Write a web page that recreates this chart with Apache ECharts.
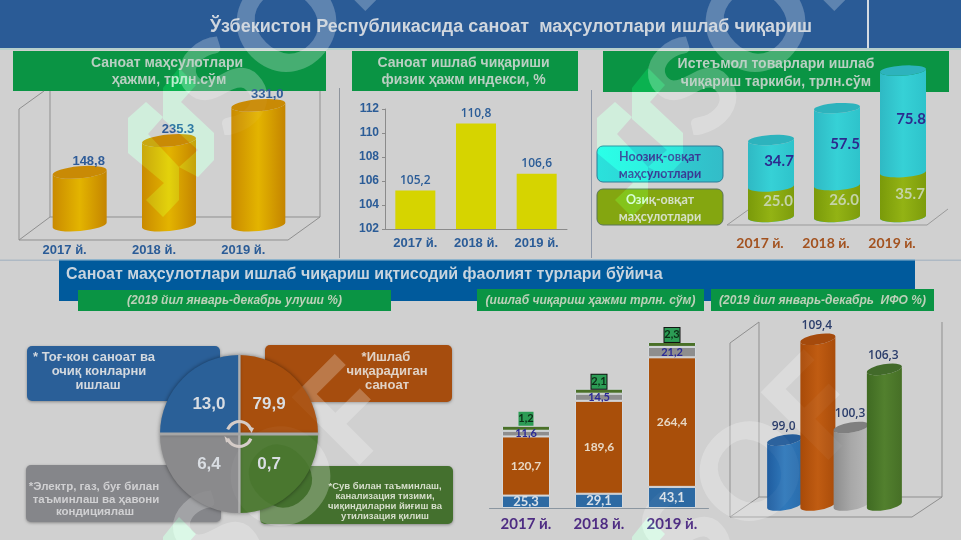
<!DOCTYPE html>
<html>
<head>
<meta charset="utf-8">
<title>Саноат маҳсулотлари</title>
<script src="https://cdn.jsdelivr.net/npm/echarts@6/dist/echarts.min.js"></script>
<style>html,body{margin:0;padding:0;background:#d0d0d0}#c{width:961px;height:540px}</style>
</head>
<body>
<div id="c"></div>
<script>
// Industrial output volume, trln. soum
const years = ['2017 й.', '2018 й.', '2019 й.'];
const outputVolume = [148.8, 235.3, 331.0];
const outputLabels = ['148,8', '235.3', '331,0'];

// Physical volume index, %
const volumeIndex = [105.2, 110.8, 106.6];

// Consumer goods split, trln. soum
const foodGoods = [25.0, 26.0, 35.7];
const nonFoodGoods = [34.7, 57.5, 75.8];

// Output by activity, trln. soum
const miningOutput = [25.3, 29.1, 43.1];
const manufacturingOutput = [120.7, 189.6, 264.4];
const energyOutput = [11.6, 14.5, 21.2];
const waterOutput = [1.2, 2.1, 2.3];

// Activity index, %
const activityNames = ['mining', 'manufacturing', 'energy', 'water'];
const activityIndex = [99.0, 109.4, 100.3, 106.3];
const activityLabels = ['99,0', '109,4', '100,3', '106,3'];

// Shares printed on the four equal tiles of the round diagram (tiles are not angle-encoded)
const tileNames = ['manufacturing', 'water', 'energy', 'mining'];
const tileShares = ['79,9', '0,7', '6,4', '13,0'];
const tileWeights = [1, 1, 1, 1];

const SANS = '"Liberation Sans", Arial, sans-serif';
const LATO = 'Lato, "Open Sans", sans-serif';
const comma = v => v.toFixed(1).replace('.', ',');

function hGrad(a, b, c) {
  return { type: 'linear', x: 0, y: 0, x2: 1, y2: 0, colorStops: [
    { offset: 0, color: a }, { offset: 0.5, color: b }, { offset: 1, color: c } ] };
}

// Outline of the visible front of a slightly tilted cylinder section
function bodyPath(cx, yTop, yBase, rx, ry, t) {
  const rot = -Math.atan2(t, rx) * 180 / Math.PI;
  const arc = s => 'A' + rx + ' ' + ry + ' ' + rot + ' 0 ' + s + ' ';
  return 'M' + (cx - rx) + ' ' + (yTop + t) + ' ' + arc(0) + (cx + rx) + ' ' + (yTop - t) +
    ' L' + (cx + rx) + ' ' + (yBase - t) + ' ' + arc(1) + (cx - rx) + ' ' + (yBase + t) + ' Z';
}
function capPath(cx, y, rx, ry, t) {
  const rot = -Math.atan2(t, rx) * 180 / Math.PI;
  const arc = 'A' + rx + ' ' + ry + ' ' + rot + ' 0 1 ';
  return 'M' + (cx - rx) + ' ' + (y + t) + ' ' + arc + (cx + rx) + ' ' + (y - t) + ' ' + arc + (cx - rx) + ' ' + (y + t) + ' Z';
}

// Custom series drawing one cylinder per datum [categoryIndex, from, to, text, labelValue]
function cylinderSeries(gridIndex, rows, opt) {
  return {
    type: 'custom', xAxisIndex: gridIndex, yAxisIndex: gridIndex, z: opt.z || 2, silent: true, clip: false,
    data: rows,
    renderItem(params, api) {
      const i = api.value(0);
      const base = api.coord([i, api.value(1)]);
      const top = api.coord([i, api.value(2)]);
      const cx = base[0] + opt.shift;
      const yBase = base[1] - opt.lift;
      const fill = typeof opt.fill === 'function' ? opt.fill(params.dataIndex) : opt.fill;
      const cap = typeof opt.cap === 'function' ? opt.cap(params.dataIndex) : opt.cap;
      const children = [{
        type: 'path', shape: { pathData: bodyPath(cx, top[1], yBase, opt.rx, opt.ry, opt.tilt) },
        style: { fill: fill }
      }];
      if (cap) {
        children.push({ type: 'path', shape: { pathData: capPath(cx, top[1], opt.rx, opt.ry, opt.tilt) }, style: { fill: cap } });
      }
      const row = rows[params.dataIndex];
      if (row[3]) {
        const ly = row[4] != null ? api.coord([i, row[4]])[1] - 2 : top[1] - opt.labelUp;
        children.push({
          type: 'text', z2: 5,
          style: { text: row[3], x: cx + opt.labelShift, y: ly, fill: opt.labelColor, font: opt.labelFont, align: 'center', verticalAlign: 'middle' }
        });
      }
      return { type: 'group', children: children };
    }
  };
}

function hiddenCat(data, gridIndex, label) {
  return {
    type: 'category', data: data, gridIndex: gridIndex,
    axisLine: { show: false }, axisTick: { show: false },
    axisLabel: label ? Object.assign({ show: true }, label) : { show: false }
  };
}
function hiddenVal(gridIndex, min, max) {
  return { type: 'value', gridIndex: gridIndex, min: min, max: max, show: false, splitLine: { show: false } };
}

const grids = [
  { left: 20, top: 80, width: 268, height: 147 },
  { left: 385, top: 109, width: 182, height: 120 },
  { left: 727, top: 59.2, width: 198, height: 160.8 },
  { left: 489.5, top: 336.5, width: 219, height: 171.5 },
  { left: 768, top: 314, width: 133, height: 194 }
];

const xAxes = [
  hiddenCat(years, 0, { color: '#2b5c97', fontFamily: SANS, fontWeight: 'bold', fontSize: 13, margin: 17 }),
  {
    type: 'category', data: years, gridIndex: 1,
    axisLine: { lineStyle: { color: '#8b8b8b' } },
    axisTick: { length: 3, lineStyle: { color: '#8b8b8b' } },
    axisLabel: { color: '#2b5c97', fontFamily: SANS, fontWeight: 'bold', fontSize: 13, margin: 8 }
  },
  hiddenCat(years, 2, { color: '#a3521f', fontFamily: LATO, fontWeight: 'bold', fontSize: 14, margin: 16 }),
  {
    type: 'category', data: years, gridIndex: 3,
    axisLine: { lineStyle: { color: '#8b96a0' } },
    axisTick: { length: 3, lineStyle: { color: '#8b96a0' } },
    axisLabel: { color: '#4e2c83', fontFamily: LATO, fontWeight: 'bold', fontSize: 15, margin: 9 }
  },
  hiddenCat(activityNames, 4, null)
];

const yAxes = [
  hiddenVal(0, 0, 400),
  {
    type: 'value', gridIndex: 1, min: 102, max: 112, interval: 2,
    splitLine: { show: false },
    axisLine: { show: true, lineStyle: { color: '#8b8b8b' } },
    axisTick: { show: true, length: 3, lineStyle: { color: '#8b8b8b' } },
    axisLabel: { color: '#2b5c97', fontFamily: SANS, fontWeight: 'bold', fontSize: 12, margin: 6 }
  },
  hiddenVal(2, 0, 120),
  hiddenVal(3, 0, 350),
  hiddenVal(4, 92, 112)
];

function stackBar(name, values, color, labelColor, extraLabel) {
  return {
    type: 'bar', name: name, stack: 'output', xAxisIndex: 3, yAxisIndex: 3, barWidth: 48, silent: true,
    data: values,
    itemStyle: { color: color, borderColor: '#d4d8dc', borderWidth: 1 },
    label: Object.assign({
      show: true, position: 'inside', color: labelColor,
      fontFamily: LATO, fontWeight: 'bold', fontSize: 12,
      formatter: p => comma(p.value)
    }, extraLabel || {})
  };
}

const activityFill = [
  hGrad('#1f5c9f', '#3079bb', '#2a6cab'),
  hGrad('#a84a08', '#c05c12', '#a94c0a'),
  hGrad('#8c8c8c', '#a8a8a8', '#b8b8b8'),
  hGrad('#3f6a22', '#52802e', '#466f26')
];
const activityCap = ['#245c99', '#a54a0c', '#7f7f7f', '#426a2a'];

// The first water label sits on a plain tile without an outline
const waterData = waterOutput.map((v, i) => (i === 0 ? { value: v, label: { borderWidth: 0 } } : v));

const series = [
  cylinderSeries(0, outputVolume.map((v, i) => [i, 0, v, outputLabels[i]]), {
    shift: 15, lift: 2, rx: 27, ry: 6, tilt: 2.4,
    fill: hGrad('#c98a00', '#e3b400', '#c48400'), cap: '#c98a05',
    labelShift: 9, labelUp: 11, labelColor: '#2f5c98', labelFont: 'bold 13px ' + SANS
  }),
  {
    type: 'bar', xAxisIndex: 1, yAxisIndex: 1, barWidth: 40, silent: true,
    data: volumeIndex,
    itemStyle: { color: '#d6d400' },
    label: {
      show: true, position: 'top', distance: 4, color: '#2b5c97',
      fontFamily: '"Open Sans", sans-serif', fontWeight: 600, fontSize: 12,
      formatter: p => comma(p.value)
    }
  },
  cylinderSeries(2, nonFoodGoods.map((v, i) => [i, 0, foodGoods[i] + v, v.toFixed(1), foodGoods[i] + v / 2]), {
    shift: 11, lift: 3, rx: 23, ry: 5, tilt: 1.5,
    fill: hGrad('#2fb9c4', '#36d1d6', '#2ec3cb'), cap: '#2db3bd',
    labelShift: 8, labelUp: 0, labelColor: '#2d2a8e', labelFont: 'bold 15px ' + LATO
  }),
  cylinderSeries(2, foodGoods.map((v, i) => [i, 0, v, v.toFixed(1), v / 2]), {
    z: 3, shift: 11, lift: 3, rx: 23, ry: 5, tilt: 1.5,
    fill: hGrad('#7a9a0a', '#93b314', '#7d9c0c'), cap: null,
    labelShift: 7, labelUp: 0, labelColor: '#c4d3a8', labelFont: 'bold 15px ' + LATO
  }),
  stackBar('mining', miningOutput, '#2d6aa3', '#d8e0e8', { fontSize: 13 }),
  stackBar('manufacturing', manufacturingOutput, '#a94f0a', '#e8d8c4'),
  stackBar('energy', energyOutput, '#8e8e8e', '#2b2a96', { fontSize: 11 }),
  Object.assign(stackBar('water', waterData, '#4a7028', '#0b2d16', {
    position: 'top', distance: 0, backgroundColor: '#2c9c55',
    borderColor: '#111', borderWidth: 1, width: 15, height: 14, align: 'center', lineHeight: 14, fontSize: 11
  }), { barMinHeight: 5 }),
  cylinderSeries(4, activityIndex.map((v, i) => [i, 92, v, activityLabels[i]]), {
    shift: 0, lift: 3, rx: 17.5, ry: 5, tilt: 3,
    fill: i => activityFill[i], cap: i => activityCap[i],
    labelShift: -1, labelUp: 14, labelColor: '#2b3d6b', labelFont: '600 12px "Open Sans", sans-serif'
  }),
  {
    type: 'pie', center: [239, 434], radius: [0, 79], startAngle: 90, silent: true, z: 3,
    data: tileWeights.map((w, i) => ({ value: w, name: tileNames[i] })),
    color: ['#a84f0d', '#4a772f', '#8a8a8c', '#2a6098'],
    itemStyle: { shadowBlur: 4, shadowColor: 'rgba(0,0,0,0.45)' },
    labelLine: { show: false },
    label: {
      show: true, position: 'inside', color: '#d9dde2',
      fontFamily: SANS, fontWeight: 'bold', fontSize: 17,
      formatter: p => tileShares[p.dataIndex]
    }
  }
];

// Page furniture: banners, captions, 3D frames and panels
const el = [];
function rect(x, y, w, h, fill, extra) {
  el.push(Object.assign({ type: 'rect', z: (extra && extra.z) || -2, silent: true, shape: { x, y, width: w, height: h, r: (extra && extra.r) || 0 },
    style: Object.assign({ fill: fill }, (extra && extra.style) || {}) }));
}
function text(x, y, s, font, fill, align, z) {
  el.push({ type: 'text', z: z || 1, silent: true, x: x, y: y,
    style: { text: s, font: font, fill: fill, align: align || 'center', verticalAlign: 'middle' } });
}
function line(points, color, w) {
  el.push({ type: 'polyline', z: -1, silent: true, shape: { points: points },
    style: { stroke: color, lineWidth: w || 1, fill: null } });
}

rect(0, 0, 961, 48, '#2a5b96');
rect(0, 48, 961, 2, '#b6cfcc');
rect(867, 0, 2, 48, '#d4dbe2');
text(511, 27.5, 'Ўзбекистон Республикасида саноат  маҳсулотлари ишлаб чиқариш', 'bold 18px ' + SANS, '#cfd6de');

rect(13, 51, 313, 40, '#0a9444');
rect(352, 51, 226, 40, '#0a9444');
rect(603, 51, 346, 41, '#0a9444');
const capFont = 'bold 14px ' + SANS;
const capFill = '#b9cfc2';
text(167, 63, 'Саноат маҳсулотлари', capFont, capFill);
text(169, 80.5, 'ҳажми, трлн.сўм', capFont, capFill);
text(463.5, 63, 'Саноат ишлаб чиқариши', capFont, capFill);
text(463.5, 80.5, 'физик ҳажм индекси, %', capFont, capFill);
text(776, 64, 'Истеъмол товарлари ишлаб', capFont, capFill);
text(776, 82, 'чиқариш таркиби, трлн.сўм', capFont, capFill);

line([[339.5, 88], [339.5, 258]], '#8e949c');
line([[591.5, 90], [591.5, 258]], '#8e98a8');
rect(0, 259.5, 961, 1.5, '#aeb9c4');

rect(59, 260, 856, 41, '#005a9c');
rect(59, 259, 856, 1.5, '#8fb4cc');
text(66, 275, 'Саноат маҳсулотлари ишлаб чиқариш иқтисодий фаолият турлари бўйича', 'bold 16px ' + SANS, '#c8d4de', 'left');
rect(78, 290, 313, 21, '#0a9444');
rect(477, 289, 227, 22, '#0a9444');
rect(711, 289, 223, 22, '#0a9444');
const subFont = 'italic bold 12px ' + SANS;
text(234.5, 301, '(2019 йил январь-декабрь улуши %)', subFont, '#bcd0b8');
text(590.5, 301, '(ишлаб чиқариш ҳажми трлн. сўм)', subFont, '#bcd0b8');
text(822.5, 301, '(2019 йил январь-декабрь  ИФО %)', subFont, '#bcd0b8');

// Perspective frames
const frame = '#8f8f8f';
line([[50, 91], [50, 217], [320, 217], [320, 91]], frame);
line([[19, 240], [288, 240], [320, 217]], frame);
line([[19, 240], [50, 217]], frame);
line([[19, 240], [19, 109], [44, 91]], frame);
line([[727, 225], [748, 210]], '#9a9a9a');
line([[727, 225], [927, 225], [948, 209]], '#9a9a9a');
line([[759, 322], [759, 497], [942, 497], [942, 322]], frame);
line([[730, 517], [912, 517], [942, 497]], frame);
line([[730, 517], [759, 497]], frame);
line([[730, 517], [730, 343], [759, 322]], frame);

// Goods legend
const panelShadow = { shadowBlur: 3, shadowColor: 'rgba(0,0,0,0.35)', shadowOffsetY: 1 };
rect(597, 146, 126, 36, { type: 'linear', x: 0, y: 0, x2: 1, y2: 0, colorStops: [{ offset: 0, color: '#2ae2dc' }, { offset: 1, color: '#33bcc8' }] },
  { r: 6, style: { stroke: '#2a7c98', lineWidth: 1 } });
rect(597, 189, 126, 36, '#84a610', { r: 6, style: { stroke: '#5a7458', lineWidth: 1 } });
const legFont = 'bold 12.5px ' + LATO;
text(660, 156.5, 'Ноозиқ-овқат', legFont, '#3a3a94', 'center', 6);
text(660, 174, 'маҳсулотлари', legFont, '#3a3a94', 'center', 6);
text(660, 199.5, 'Озиқ-овқат', legFont, '#d6e0c8', 'center', 6);
text(660, 217, 'маҳсулотлари', legFont, '#d6e0c8', 'center', 6);

// Panels around the round diagram
rect(27, 346, 193, 55, '#2a5f98', { r: 5, style: panelShadow });
rect(265, 345, 187, 57, '#a64d0e', { r: 5, style: panelShadow });
rect(26, 465, 195, 57, '#85868a', { r: 5, style: panelShadow });
rect(260, 466, 193, 58, '#44702e', { r: 5, style: panelShadow });
const panelFont = 'bold 13px ' + SANS;
text(94, 357.5, '* Тоғ-кон саноат ва', panelFont, '#d3d8de');
text(99, 371.5, 'очиқ конларни', panelFont, '#d3d8de');
text(98, 385.5, 'ишлаш', panelFont, '#d3d8de');
text(386, 357, '*Ишлаб', panelFont, '#e0d2c6');
text(387, 371, 'чиқарадиган', panelFont, '#e0d2c6');
text(387, 385, 'саноат', panelFont, '#e0d2c6');
const greyFont = 'bold 11.5px ' + SANS;
text(94, 487, '*Электр, газ, буғ билан', greyFont, '#d0d0d2');
text(96, 499.5, 'таъминлаш ва ҳавони', greyFont, '#d0d0d2');
text(95, 512, 'кондициялаш', greyFont, '#d0d0d2');
const smallFont = 'bold 9.5px ' + SANS;
text(385, 486, '*Сув билан таъминлаш,', smallFont, '#d6decb');
text(385, 496, 'канализация тизими,', smallFont, '#d6decb');
text(385, 506, 'чиқиндиларни йиғиш ва', smallFont, '#d6decb');
text(385, 516, 'утилизация қилиш', smallFont, '#d6decb');

// Spokes between the tiles and the cycle arrows in the middle of the diagram
rect(238.2, 355, 2.4, 158, '#aeaeae', { z: 4 });
rect(160, 432.5, 158, 3, '#a6a6a6', { z: 4 });
const cyc = '#d5ccc8';
[[Math.PI * 1.12, Math.PI * 1.88], [Math.PI * 0.12, Math.PI * 0.88]].forEach(a => {
  el.push({ type: 'arc', z: 10, silent: true, shape: { cx: 239.3, cy: 434, r: 12.5, startAngle: a[0], endAngle: a[1], clockwise: true },
    style: { stroke: cyc, lineWidth: 3, fill: null } });
});
el.push({ type: 'polygon', z: 10, silent: true, shape: { points: [[248, 426.5], [254, 428], [251.5, 433]] }, style: { fill: cyc } });
el.push({ type: 'polygon', z: 10, silent: true, shape: { points: [[224.5, 436], [230.5, 441], [226, 442.5]] }, style: { fill: cyc } });

// Repeating publisher mark laid over the whole page
const logoLeft = [[597, 118], [615, 102], [632, 117], [617, 134], [648, 167], [648, 200], [632, 217], [615, 200], [633, 183], [597, 153]];
const logoRight = [[632, 88], [648, 68], [665, 85], [650, 102], [683, 133], [683, 160], [667, 177], [648, 167], [667, 150], [632, 119]];
[[0, 0], [-469, 0], [0, 449], [-469, 449]].forEach(o => {
  [logoLeft, logoRight].forEach(p => {
    el.push({ type: 'polygon', z: 50, silent: true,
      shape: { points: p.map(q => [q[0] + o[0], q[1] + o[1]]) },
      style: { fill: 'rgb(0,30,12)', blend: 'lighter' } });
  });
});
// The word mark: a stronger copy on the page ground, a faint one over the marks
[[285, 479], [754, 474], [291, 25], [760, 25]].forEach(c => {
  [[-1, 'rgba(255,255,255,0.22)'], [50, 'rgba(255,255,255,0.04)']].forEach(layer => {
    el.push({ type: 'text', z: layer[0], silent: true, x: c[0], y: c[1], rotation: Math.PI / 4,
      style: { text: 'SOF', font: '900 132px Lato, sans-serif', fill: layer[1], align: 'center', verticalAlign: 'middle' } });
  });
});

const chart = echarts.init(document.getElementById('c'), null, { renderer: 'canvas' });
chart.setOption({
  animation: false,
  backgroundColor: '#d0d0d0',
  grid: grids,
  xAxis: xAxes,
  yAxis: yAxes,
  series: series,
  graphic: { elements: el }
});
</script>
</body>
</html>
